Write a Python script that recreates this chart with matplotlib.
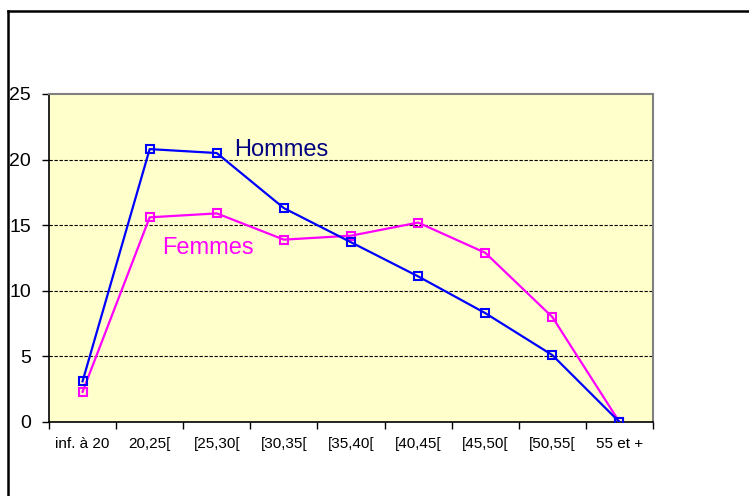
import matplotlib
matplotlib.use('Agg')
from matplotlib import pyplot as plt
from matplotlib.lines import Line2D
import numpy as np

plt.rcParams['font.family'] = ['Liberation Sans', 'DejaVu Sans']

# Data
categories = ['inf. à 20', '20,25[', '[25,30[', '[30,35[', '[35,40[',
              '[40,45[', '[45,50[', '[50,55[', '55 et +']
hommes = [3.1, 20.8, 20.5, 16.3, 13.7, 11.1, 8.3, 5.1, 0.0]
femmes = [2.3, 15.6, 15.9, 13.9, 14.2, 15.2, 12.9, 8.0, 0.0]
y_ticks = [0, 5, 10, 15, 20, 25]

W, H = 749, 496
fig = plt.figure(figsize=(W / 100, H / 100), dpi=100)

# plot area in pixels: left 49, right 653, top 94, bottom 422
ax = fig.add_axes([49 / W, 1 - 422 / H, (653 - 49) / W, (422 - 94) / H])
ax.set_facecolor('#FFFFCC')

x = np.arange(len(categories))
ax.plot(x, hommes, color='#0000FF', lw=1.6, marker='s', ms=6,
        mfc='none', mec='#0000FF', mew=1.5, zorder=3)
ax.plot(x, femmes, color='#FF00FF', lw=1.6, marker='s', ms=6,
        mfc='none', mec='#FF00FF', mew=1.5, zorder=2)

ax.set_xlim(-0.5, len(categories) - 0.5)
ax.set_ylim(0, 25)

# gridlines
for v in y_ticks[1:-1]:
    ax.axhline(v, color='black', lw=0.8, ls=(0, (3, 1.5)), zorder=1)

ax.set_yticks(y_ticks)
ax.set_yticklabels([str(v) for v in y_ticks], fontsize=14)
ax.tick_params(axis='y', direction='out', length=5, width=1, pad=8)

ax.set_xticks(x)
ax.set_xticklabels(categories, fontsize=11)
ax.set_xticks(np.arange(-0.5, len(categories)), minor=True)
ax.tick_params(axis='x', which='major', length=0, pad=11)
ax.tick_params(axis='x', which='minor', direction='out', length=5, width=1)

for s in ['top', 'right']:
    ax.spines[s].set_color('#808080')
    ax.spines[s].set_linewidth(1.5)
for s in ['left', 'bottom']:
    ax.spines[s].set_color('black')
    ax.spines[s].set_linewidth(1.2)

# series labels
ax.text(2.26, 20.75, 'Hommes', color='#000080', fontsize=17, va='center', ha='left')
ax.text(1.19, 13.3, 'Femmes', color='#FF00FF', fontsize=17, va='center', ha='left')

# outer frame (left and top only visible)
fig.add_artist(Line2D([8 / W, 8 / W], [0, 1 - 11 / H], color='black', lw=1.8))
fig.add_artist(Line2D([8 / W, 1], [1 - 11 / H, 1 - 11 / H], color='black', lw=1.8))

fig.savefig('out.png', dpi=100)
